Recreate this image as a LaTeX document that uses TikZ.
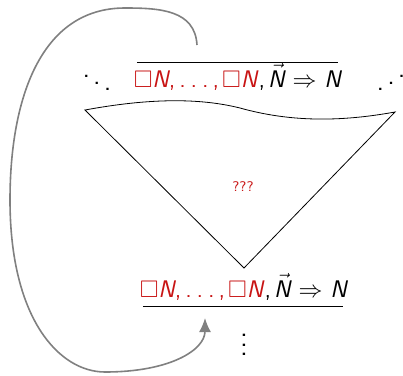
\documentclass[tikz,border=0pt]{standalone}
\usepackage{amssymb}
\usetikzlibrary{arrows.meta}
\definecolor{boxred}{RGB}{200,20,20}
\newcommand{\nN}{\textit{N}}
\newcommand{\dotsep}{.\hspace{2.4pt}.\hspace{2.4pt}.}
\newcommand{\seqline}{\textcolor{boxred}{$\Box$\nN,\hspace{2pt}\dotsep\hspace{2pt},\hspace{1.5pt}$\Box$\nN},\hspace{1.5pt}$\vec{\mbox{\nN}}\Rightarrow$ \nN}

\begin{document}
\begin{tikzpicture}[x=0.5pt,y=-0.5pt,font=\sffamily\large]
  \useasboundingbox (0,0) rectangle (403,376);
  % Coordinates
  \coordinate (L) at (85,110);
  \coordinate (R) at (395,112);
  \coordinate (V) at (244,268);
  \coordinate (S) at (197,45);

  % Nodes
  \node (top) at (238,77) {\seqline};
  \node (bot) at (244,287) {\seqline};
  \node[text=boxred,font=\sffamily\scriptsize] (q) at (243,187) {???};
  \node[scale=1.15,inner sep=0pt] (dl) at (97,76) {$\ddots$};
  \node[scale=1.15,inner sep=0pt] (dr) at (391,76) {\reflectbox{$\ddots$}};
  \node[scale=1.2,inner sep=0pt] (dv) at (244,338) {$\vdots$};

  % Drawing
  \draw (137,62) -- (338,62);
  \draw (143,306) -- (343,306);
  \draw (L) .. controls (150,98) and (200,98) .. (240,108)
            .. controls (290,122) and (340,122) .. (R) -- (V) -- cycle;
  \draw[gray,thick,-{Latex[length=7pt,width=6pt]}] (S)
    .. controls (195,10) and (160,8) .. (125,8)
    .. controls (40,8) and (10,100) .. (10,200)
    .. controls (10,320) and (60,372) .. (105,372)
    .. controls (170,372) and (205,350) .. (205,318);
\end{tikzpicture}
\end{document}
